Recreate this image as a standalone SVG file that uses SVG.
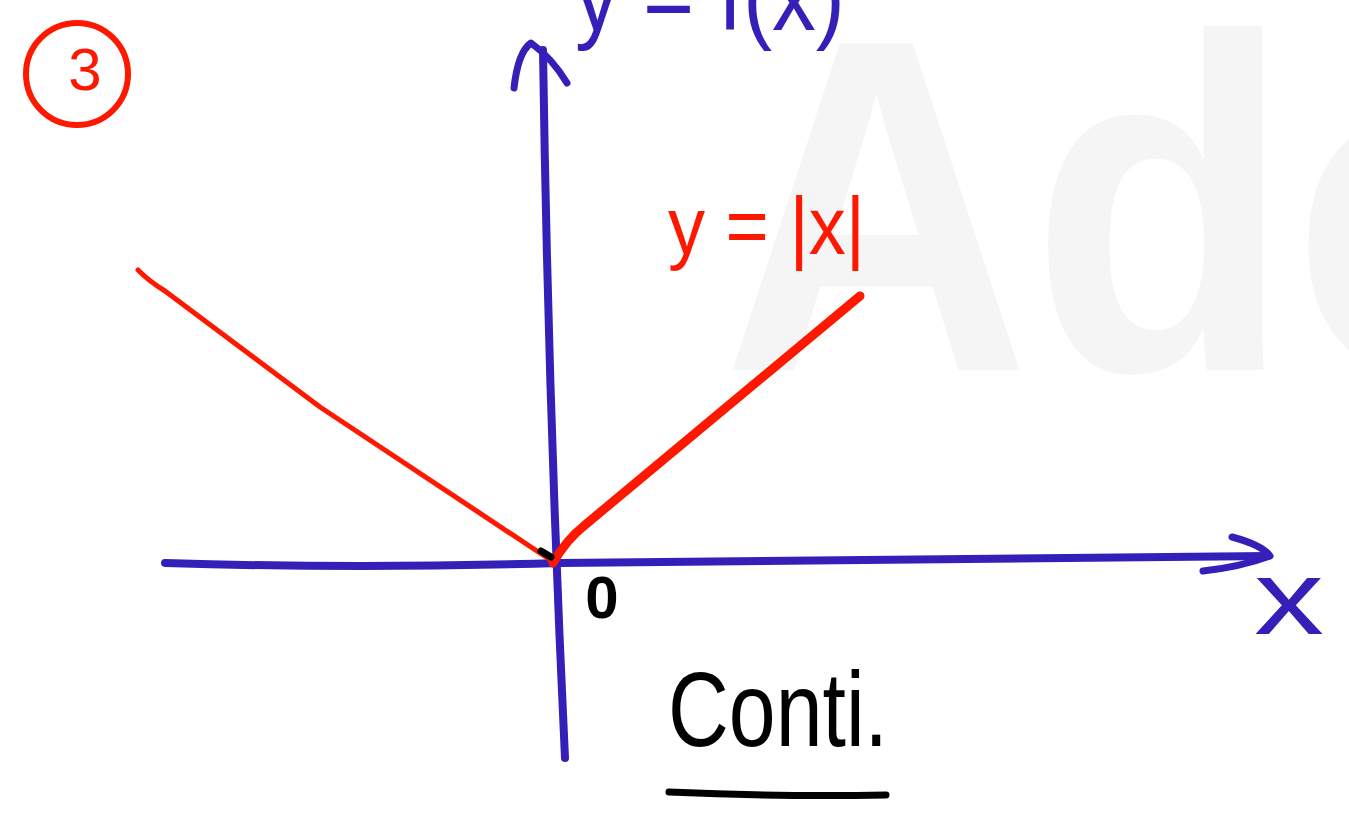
<svg xmlns="http://www.w3.org/2000/svg" width="1349" height="816" viewBox="0 0 1349 816">
  <style>
    .blue { stroke: #3420b8; fill: none; stroke-linecap: round; stroke-linejoin: round; }
    .red { stroke: #ff1800; fill: none; stroke-linecap: round; stroke-linejoin: round; }
    .ink { stroke: #000; fill: none; stroke-linecap: round; stroke-linejoin: round; }
    .hand { font-family: "Liberation Sans", "DejaVu Sans", sans-serif; }
  </style>
  <rect width="1349" height="816" fill="#ffffff"/>

  <!-- watermark -->
  <g id="watermark">
    <text transform="translate(722,370) scale(0.9,1)" x="0" y="0" font-family="'Liberation Sans', Arial, sans-serif" font-weight="bold" font-size="475" fill="#f6f5f6">Ado</text>
  </g>

  <!-- label 3 in circle -->
  <g id="number-3">
    <ellipse cx="77" cy="74" rx="51" ry="51" class="red" stroke-width="6"/>
    <text x="85" y="90" text-anchor="middle" class="hand" font-size="60" fill="#ff1800">3</text>
  </g>

  <!-- axes -->
  <g id="connectors">
    <g id="y-axis">
      <path class="blue" stroke-width="8" d="M543,50 Q548,400 565,758"/>
      <path class="blue" stroke-width="7" d="M514,88 Q518,52 531,43 Q552,58 567,83"/>
    </g>
    <g id="x-axis">
      <path class="blue" stroke-width="8" d="M165,563 Q360,569 560,563 L1268,556"/>
      <path class="blue" stroke-width="7" d="M1232,537 Q1262,545 1270,556 Q1240,567 1203,571"/>
    </g>
    <g id="graph-abs">
      <path class="red" stroke-width="5" d="M138,270 Q150,282 165,291 L320,407 L555,563"/>
      <path class="red" stroke-width="9" d="M553,563 Q566,540 585,525 L860,296"/>
      <path class="ink" stroke-width="7" d="M541,551 L551,557"/>
    </g>
    <path id="underline" class="ink" stroke-width="7" d="M669,792 Q780,797 886,795"/>
  </g>

  <!-- labels -->
  <g id="label-yfx">
    <text x="575" y="30" class="hand" font-size="100" fill="#3420b8" textLength="270" lengthAdjust="spacingAndGlyphs">y = f(x)</text>
  </g>
  <g id="label-absx">
    <text x="668" y="254" class="hand" font-size="82" fill="#ff1800" textLength="197" lengthAdjust="spacingAndGlyphs">y = |x|</text>
  </g>
  <g id="label-origin">
    <text x="602" y="618" text-anchor="middle" class="hand" font-size="60" font-weight="bold" fill="#000">0</text>
  </g>
  <g id="label-x">
    <text x="1254" y="634" class="hand" font-size="105" fill="#3420b8" textLength="70" lengthAdjust="spacingAndGlyphs">x</text>
  </g>
  <g id="label-conti">
    <text x="668" y="746" class="hand" font-size="105" fill="#000" textLength="220" lengthAdjust="spacingAndGlyphs">Conti.</text>
  </g>
</svg>
